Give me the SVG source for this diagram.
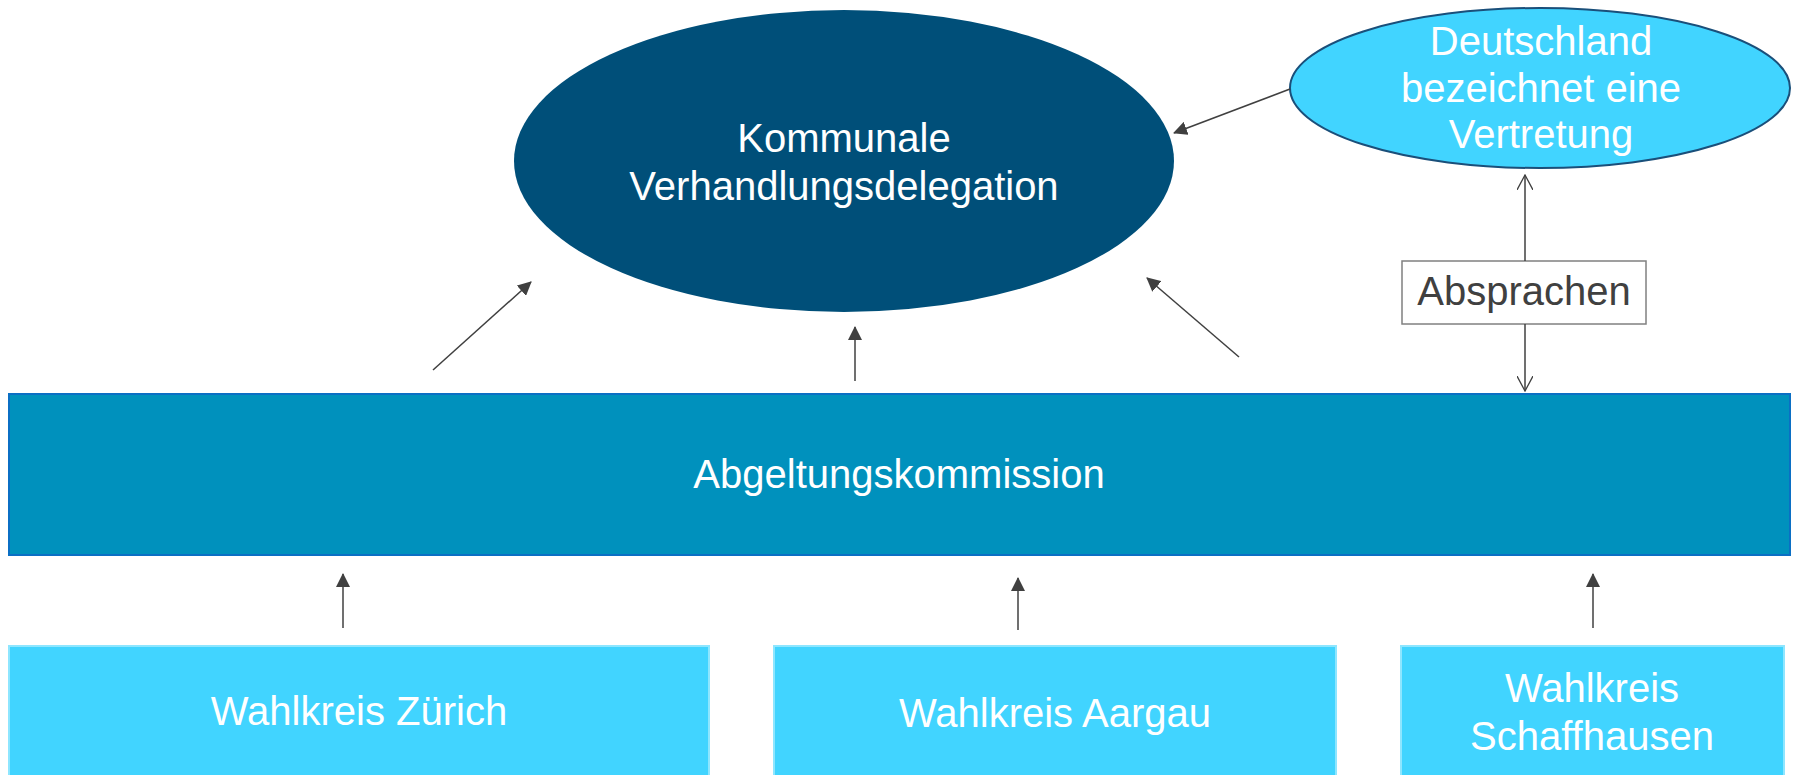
<svg xmlns="http://www.w3.org/2000/svg" width="1800" height="775" viewBox="0 0 1800 775">
<style>
text{font-family:"Liberation Sans",Arial,sans-serif;font-size:40px;text-anchor:middle;fill:#ffffff}
.lbl{fill:#404040}
.con{stroke:#404040;stroke-width:1.5;fill:none}
.wk{fill:#41d4ff;stroke:#8ee6ff;stroke-width:2}
</style>
<defs>
<marker id="fa" viewBox="0 0 14 14" refX="13" refY="7" markerWidth="14" markerHeight="14" markerUnits="userSpaceOnUse" orient="auto">
<path d="M0,0 L14,7 L0,14 Z" fill="#404040"/>
</marker>
<marker id="oa" viewBox="0 0 16 16" refX="15" refY="8" markerWidth="16" markerHeight="16" markerUnits="userSpaceOnUse" orient="auto">
<path d="M0,0 L15,8 L0,16" fill="none" stroke="#404040" stroke-width="1.3"/>
</marker>
</defs>
<rect width="1800" height="775" fill="#ffffff"/>
<g id="kommunale">
<ellipse cx="844" cy="161" rx="330" ry="151" fill="#004f79"/>
<text x="844" y="152">Kommunale</text>
<text x="844" y="200">Verhandlungsdelegation</text>
</g>
<g id="deutschland">
<ellipse cx="1540" cy="88" rx="250" ry="80" fill="#41d4ff" stroke="#1a4f7a" stroke-width="2"/>
<text x="1541" y="55">Deutschland</text>
<text x="1541" y="102">bezeichnet eine</text>
<text x="1541" y="148">Vertretung</text>
</g>
<g id="absprachen">
<rect x="1402" y="261" width="244" height="63" fill="#ffffff" stroke="#808080" stroke-width="1.5"/>
<text class="lbl" x="1524" y="305">Absprachen</text>
</g>
<g id="abgeltungskommission">
<rect x="9" y="394" width="1781" height="161" fill="#0091bd" stroke="#0b6fc4" stroke-width="2"/>
<text x="899" y="488">Abgeltungskommission</text>
</g>
<g id="zuerich">
<rect class="wk" x="9" y="646" width="700" height="140"/>
<text x="359" y="725">Wahlkreis Zürich</text>
</g>
<g id="aargau">
<rect class="wk" x="774" y="646" width="562" height="140"/>
<text x="1055" y="727">Wahlkreis Aargau</text>
</g>
<g id="schaffhausen">
<rect class="wk" x="1401" y="646" width="383" height="140"/>
<text x="1592" y="702">Wahlkreis</text>
<text x="1592" y="750">Schaffhausen</text>
</g>
<g id="connectors">
<line class="con" x1="433" y1="370" x2="531" y2="282" marker-end="url(#fa)"/>
<line class="con" x1="855" y1="381" x2="855" y2="327" marker-end="url(#fa)"/>
<line class="con" x1="1239" y1="357" x2="1147" y2="278" marker-end="url(#fa)"/>
<line class="con" x1="1290" y1="89" x2="1174" y2="133" marker-end="url(#fa)"/>
<line class="con" x1="1525" y1="261" x2="1525" y2="175" marker-end="url(#oa)"/>
<line class="con" x1="1525" y1="324" x2="1525" y2="391" marker-end="url(#oa)"/>
<line class="con" x1="343" y1="628" x2="343" y2="574" marker-end="url(#fa)"/>
<line class="con" x1="1018" y1="630" x2="1018" y2="578" marker-end="url(#fa)"/>
<line class="con" x1="1593" y1="628" x2="1593" y2="574" marker-end="url(#fa)"/>
</g>
</svg>
